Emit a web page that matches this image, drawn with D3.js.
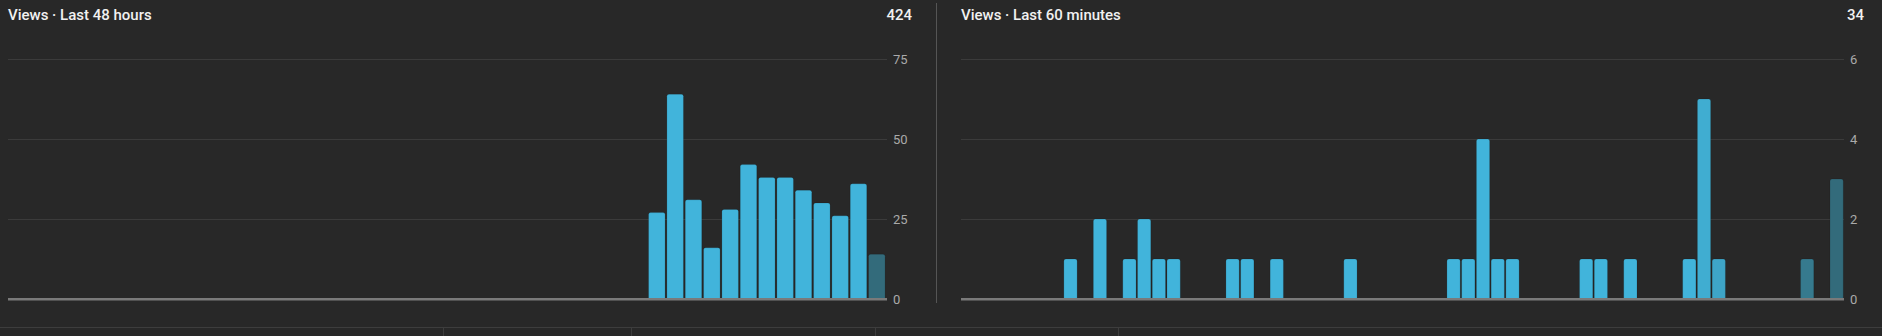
<!DOCTYPE html>
<html>
<head>
<meta charset="utf-8">
<script src="https://cdn.jsdelivr.net/npm/d3@7"></script>
<style>
  html, body { margin: 0; padding: 0; background: #282828; }
  svg { display: block; font-family: Roboto, "Noto Sans", sans-serif; }
</style>
</head>
<body>
<svg id="canvas"></svg>
<script>
// hourly views, last 48 hours (oldest first)
const hourViews = [
    0, 0, 0, 0, 0, 0, 0, 0, 0, 0, 0, 0,
    0, 0, 0, 0, 0, 0, 0, 0, 0, 0, 0, 0,
    0, 0, 0, 0, 0, 0, 0, 0, 0, 0, 0,
    27, 64, 31, 16, 28, 42, 38, 38, 34, 30, 26, 36, 14
];
// views per minute, last 60 minutes (oldest first)
const minuteViews = [
    0, 0, 0, 0, 0, 0, 0, 1, 0, 2,
    0, 1, 2, 1, 1, 0, 0, 0, 1, 1,
    0, 1, 0, 0, 0, 0, 1, 0, 0, 0,
    0, 0, 0, 1, 1, 4, 1, 1, 0, 0,
    0, 0, 1, 1, 0, 1, 0, 0, 0, 1,
    5, 1, 0, 0, 0, 0, 0, 1, 0, 3
];
const hourTicks = [0, 25, 50, 75];
const minuteTicks = [0, 2, 4, 6];
const titles = ["Views · Last 48 hours", "Views · Last 60 minutes"];

const width = 1882;
const height = 336;
const plotTop = 59;
const base = 299;
const light = "#41b4db";
const dark = "#336b7b";

const svg = d3.select("#canvas")
    .attr("width", width)
    .attr("height", height);

function drawPanel(values, ticks, title, x0, x1, gridEnd, fadeFrom, fadeTo, titleX, totalX) {
    const xScale = d3.scaleBand()
        .domain(d3.range(values.length))
        .range([x0, x1])
        .paddingInner(0.1)
        .paddingOuter(0.05);
    const yScale = d3.scaleLinear()
        .domain([0, d3.max(ticks)])
        .range([base, plotTop]);

    const g = svg.append("g");

    // grid + tick labels
    const yAxis = d3.axisRight(yScale)
        .tickValues(ticks)
        .tickFormat(d3.format("d"))
        .tickSize(-(gridEnd - titleX))
        .tickPadding(6);
    const axis = g.append("g")
        .attr("transform", `translate(${gridEnd}, 0)`)
        .call(yAxis);
    axis.select(".domain").remove();
    axis.selectAll(".tick line")
        .attr("stroke", d => d === 0 ? "#7a7a7a" : "#3b3b3b")
        .attr("stroke-width", d => d === 0 ? 2 : 1);
    axis.selectAll(".tick text")
        .attr("fill", "#aaaaaa")
        .attr("font-size", 13)
        .attr("font-family", "Roboto, sans-serif")
        .attr("x", 6);

    const color = i => {
        if (i < fadeFrom) return light;
        const t = Math.min(1, (i - fadeFrom) / (fadeTo - fadeFrom));
        return d3.interpolateRgb(light, dark)(t);
    };

    const r = 2;
    g.selectAll("path.bar")
        .data(values.map((v, i) => ({ v, i })).filter(d => d.v > 0))
        .enter()
        .append("path")
        .attr("class", "bar")
        .attr("fill", d => color(d.i))
        .attr("stroke", "rgba(0,0,0,0.12)")
        .attr("stroke-width", 1)
        .attr("d", d => {
            const x = xScale(d.i);
            const w = xScale.bandwidth();
            const y = yScale(d.v);
            return `M${x},${base} V${y + r} Q${x},${y} ${x + r},${y} H${x + w - r} Q${x + w},${y} ${x + w},${y + r} V${base} Z`;
        });

    // redraw baseline above bars
    g.append("line")
        .attr("x1", titleX)
        .attr("x2", gridEnd)
        .attr("y1", yScale(0))
        .attr("y2", yScale(0))
        .attr("stroke", "#7a7a7a")
        .attr("stroke-width", 2);

    g.append("text")
        .attr("x", titleX)
        .attr("y", 20)
        .attr("fill", "#f1f1f1")
        .attr("font-size", 15)
        .attr("font-weight", 500)
        .text(title);

    g.append("text")
        .attr("x", totalX)
        .attr("y", 20)
        .attr("text-anchor", "end")
        .attr("fill", "#f1f1f1")
        .attr("font-size", 15)
        .attr("font-weight", 500)
        .text(d3.sum(values));
}

drawPanel(hourViews, hourTicks, titles[0], 6, 886, 887, 46, 47, 8, 912);
drawPanel(minuteViews, minuteTicks, titles[1], 960, 1844, 1844, 49, 59, 961, 1864);

// separator
svg.append("line")
    .attr("x1", 936.5).attr("x2", 936.5)
    .attr("y1", 3).attr("y2", 303)
    .attr("stroke", "#555");

// top edge of table below
svg.append("line")
    .attr("x1", 0).attr("x2", width)
    .attr("y1", 327.5).attr("y2", 327.5)
    .attr("stroke", "#3d3d3d");
svg.selectAll("line.col")
    .data([443, 631, 875, 1118])
    .enter()
    .append("line")
    .attr("class", "col")
    .attr("x1", d => d + 0.5).attr("x2", d => d + 0.5)
    .attr("y1", 328).attr("y2", height)
    .attr("stroke", "#3d3d3d");
</script>
</body>
</html>
